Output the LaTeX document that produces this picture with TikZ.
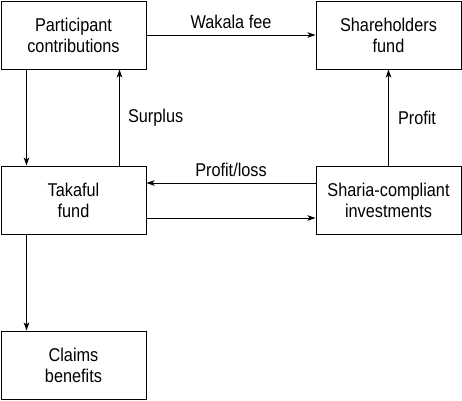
\documentclass[tikz,border=0pt]{standalone}
\usepackage{fontspec}
\setmainfont{Liberation Sans}[FakeStretch=0.88]
\usetikzlibrary{arrows.meta}
\begin{document}
\begin{tikzpicture}[x=1pt,y=-1pt,
  box/.style={draw,line width=1pt,minimum width=145pt,minimum height=68pt,inner sep=0pt,align=center,font=\fontsize{18.5}{21}\selectfont},
  arr/.style={line width=1pt,-{Stealth[length=8pt,width=5.5pt,inset=2pt]}},
  lbl/.style={font=\fontsize{18.5}{21}\selectfont,inner sep=0pt}]
\useasboundingbox (0,0) rectangle (462,400);
\node[box] (pc) at (73.5,35) {Participant\\contributions};
\node[box] (sh) at (388.5,35) {Shareholders\\fund};
\node[box] (tk) at (73.5,200) {Takaful\\fund};
\node[box] (sr) at (388.5,200) {Sharia-compliant\\investments};
\node[box] (cl) at (73.5,365) {Claims\\benefits};
\draw[arr] (pc.east) -- node[lbl,above=6pt]{Wakala fee} (sh.west);
\draw[arr] ([xshift=26pt]pc.south west) -- ([xshift=26pt]tk.north west);
\draw[arr] ([xshift=119pt]tk.north west) -- node[lbl,right=8pt]{Surplus} ([xshift=119pt]pc.south west);
\draw[arr] (sr.north) -- node[lbl,right=9pt]{Profit} (sh.south);
\draw[arr] ([yshift=17pt]sr.west) -- node[lbl,above=6pt]{Profit/loss} ([yshift=17pt]tk.east);
\draw[arr] ([yshift=-18pt]tk.east) -- ([yshift=-18pt]sr.west);
\draw[arr] ([xshift=26pt]tk.south west) -- ([xshift=26pt]cl.north west);
\end{tikzpicture}
\end{document}
